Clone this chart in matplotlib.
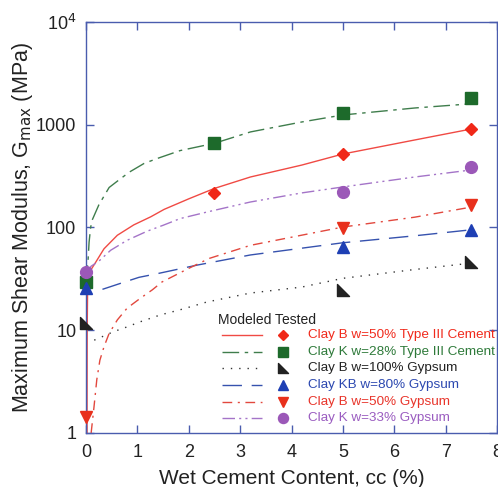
import numpy as np
import matplotlib
matplotlib.use("Agg")
import matplotlib.pyplot as plt
from matplotlib.path import Path
from matplotlib.ticker import FixedLocator, FuncFormatter

plt.rcParams["font.family"] = ["Liberation Sans", "DejaVu Sans"]

AXIS_BLUE = "#4a5cae"

# ------------------------------------------------------------
# Tested points (cc %, Gmax MPa)
# ------------------------------------------------------------
cb50_cem_x = [2.5, 5.0, 7.5]
cb50_cem_y = [217, 519, 909]
ck28_cem_x = [0.0, 2.5, 5.0, 7.5]
ck28_cem_y = [29.5, 664, 1300, 1820]
cb100_gyp_x = [0.0, 5.0, 7.5]
cb100_gyp_y = [11.8, 24.7, 46]
ckb80_gyp_x = [0.0, 5.0, 7.5]
ckb80_gyp_y = [26, 65, 95]
cb50_gyp_x = [0.0, 5.0, 7.5]
cb50_gyp_y = [1.42, 98, 165]
ck33_gyp_x = [0.0, 5.0, 7.5]
ck33_gyp_y = [37, 221, 388]

# ------------------------------------------------------------
# Model curves (cc %, Gmax MPa)
# ------------------------------------------------------------
m_cb50_cem_x = [0.02, 0.021, 0.023, 0.03, 0.05, 0.1, 0.19, 0.35, 0.61, 0.93, 1.26,
                1.52, 2.0, 2.5, 3.2, 4.2, 5.0, 6.4, 7.5]
m_cb50_cem_y = [1.0, 3, 10, 22, 32, 39, 46, 62, 84, 106, 127,
                150, 190, 240, 310, 405, 519, 711, 909]
m_ck28_cem_x = [0.0, 0.02, 0.04, 0.06, 0.09, 0.12, 0.25, 0.45, 0.64, 0.84, 1.13,
                1.39, 1.83, 2.5, 3.2, 4.2, 5.0, 6.4, 7.5]
m_ck28_cem_y = [29.5, 38, 48, 72, 100, 118, 166, 245, 290, 345, 420,
                470, 560, 660, 851, 1064, 1245, 1456, 1600]
m_cb100_gyp_x = [0.16, 0.35, 0.54, 0.74, 1.06, 1.45, 1.83, 2.35, 3.2, 4.2, 5.0, 6.4, 7.5]
m_cb100_gyp_y = [8.0, 8.8, 9.7, 10.5, 12.1, 14.1, 15.8, 18.8, 23, 26.3, 32, 39, 45]
m_ckb80_gyp_x = [0.32, 0.71, 1.03, 1.42, 2.16, 3.2, 5.0, 6.4, 7.5]
m_ckb80_gyp_y = [25, 29, 32.7, 35.8, 43, 54, 71, 83, 95]
m_cb50_gyp_x = [0.10, 0.156, 0.21, 0.27, 0.35, 0.45, 0.61, 0.8, 1.06, 1.29, 1.48,
                2.0, 2.4, 3.2, 5.0, 6.4, 7.5]
m_cb50_gyp_y = [1.0, 1.8, 3.3, 5.1, 6.9, 9.3, 12.6, 16.4, 20.5, 24.7, 29.5,
                40, 50, 67, 101, 126, 158]
m_ck33_gyp_x = [0.02, 0.1, 0.25, 0.48, 0.8, 1.19, 1.5, 1.83, 2.37, 3.2, 4.2, 5.0, 6.4, 7.5]
m_ck33_gyp_y = [37, 42, 47, 60, 75, 92, 105, 122, 142, 177, 217, 248, 310, 363]

# right-angle triangle marker (vertical edge left, flat bottom)
corner_tri = Path([(-1, 1), (-1, -1), (1, -1), (-1, 1)],
                  [Path.MOVETO, Path.LINETO, Path.LINETO, Path.CLOSEPOLY])

series = [
    dict(label="Clay B w=50% Type III Cement", mx=m_cb50_cem_x, my=m_cb50_cem_y,
         px=cb50_cem_x, py=cb50_cem_y, lc="#f04a44", ls="-", pc="#f02818",
         marker="D", ms=6.5, tc="#f02a1c"),
    dict(label="Clay K w=28% Type III Cement", mx=m_ck28_cem_x, my=m_ck28_cem_y,
         px=ck28_cem_x, py=ck28_cem_y, lc="#3f7d4c", ls=(0, (12, 4, 2.5, 4)), pc="#1d6a2b",
         marker="s", ms=8, tc="#2e7a3a"),
    dict(label="Clay B w=100% Gypsum", mx=m_cb100_gyp_x, my=m_cb100_gyp_y,
         px=cb100_gyp_x, py=cb100_gyp_y, lc="#333333", ls=(0, (1, 5)), pc="#222222",
         marker=corner_tri, ms=8, tc="#222222"),
    dict(label="Clay KB w=80% Gypsum", mx=m_ckb80_gyp_x, my=m_ckb80_gyp_y,
         px=ckb80_gyp_x, py=ckb80_gyp_y, lc="#3652ae", ls=(0, (14, 7)), pc="#1e3fb4",
         marker="^", ms=8, tc="#2c48b0"),
    dict(label="Clay B w=50% Gypsum", mx=m_cb50_gyp_x, my=m_cb50_gyp_y,
         px=cb50_gyp_x, py=cb50_gyp_y, lc="#e2483e", ls=(0, (7, 4, 1.5, 4)), pc="#e8301c",
         marker="v", ms=8, tc="#e8342a"),
    dict(label="Clay K w=33% Gypsum", mx=m_ck33_gyp_x, my=m_ck33_gyp_y,
         px=ck33_gyp_x, py=ck33_gyp_y, lc="#a474c8", ls=(0, (9, 3, 1.5, 3, 1.5, 3)), pc="#9b58b8",
         marker="o", ms=8.5, tc="#9a5cc0"),
]

fig = plt.figure(figsize=(4.98, 4.87), dpi=100)
ax = fig.add_axes([0.1727, 0.111, 0.8253, 0.8438])

for s in series:
    ax.plot(s["mx"], s["my"], color=s["lc"], ls=s["ls"], lw=1.0, zorder=2)
for s in series:
    ax.plot(s["px"], s["py"], ls="none", marker=s["marker"], ms=s["ms"],
            color=s["pc"], mec=s["pc"], zorder=3, clip_on=False)

ax.set_yscale("log")
ax.set_xlim(0, 8)
ax.set_ylim(1, 1e4)
ax.xaxis.set_major_locator(FixedLocator(range(0, 9)))
ax.yaxis.set_major_locator(FixedLocator([1, 10, 100, 1000, 10000]))
ax.yaxis.set_minor_locator(FixedLocator([]))
ax.yaxis.set_major_formatter(FuncFormatter(
    lambda v, p: r"10$^{4}$" if v >= 1e4 else f"{v:g}"))

for sp in ax.spines.values():
    sp.set_color(AXIS_BLUE)
    sp.set_linewidth(1.0)
ax.tick_params(which="both", direction="in", top=True, right=True,
               length=6, width=1.0, color=AXIS_BLUE, labelsize=13,
               labelcolor="#222222")
ax.tick_params(axis="x", pad=8)
ax.tick_params(axis="y", pad=7)

ax.set_xlabel("Wet Cement Content, cc (%)", fontsize=15, color="#222222", labelpad=6)
ax.set_ylabel(r"Maximum Shear Modulus, G$_{\mathrm{max}}$ (MPa)", fontsize=15.5,
              color="#222222", labelpad=1)

# legend: modeled line, tested marker, coloured label
tr = ax.transAxes
x_line0, x_line1, x_mark, x_text = 0.331, 0.428, 0.479, 0.540
y_top = 0.238
dy = 0.0404
ax.text(0.321, 0.275, "Modeled Tested", transform=tr, fontsize=10,
        color="#222222", va="center", ha="left")
for i, s in enumerate(series):
    yy = y_top - i * dy
    ax.plot([x_line0, x_line1], [yy, yy], transform=tr, color=s["lc"], ls=s["ls"],
            lw=1.0, clip_on=False)
    ax.plot([x_mark], [yy], transform=tr, marker=s["marker"], ms=s["ms"] * 0.85,
            color=s["pc"], ls="none", clip_on=False)
    ax.text(x_text, yy, s["label"], transform=tr, fontsize=9.7, color=s["tc"],
            va="center", ha="left", clip_on=False)

fig.savefig("out.png", dpi=100)
